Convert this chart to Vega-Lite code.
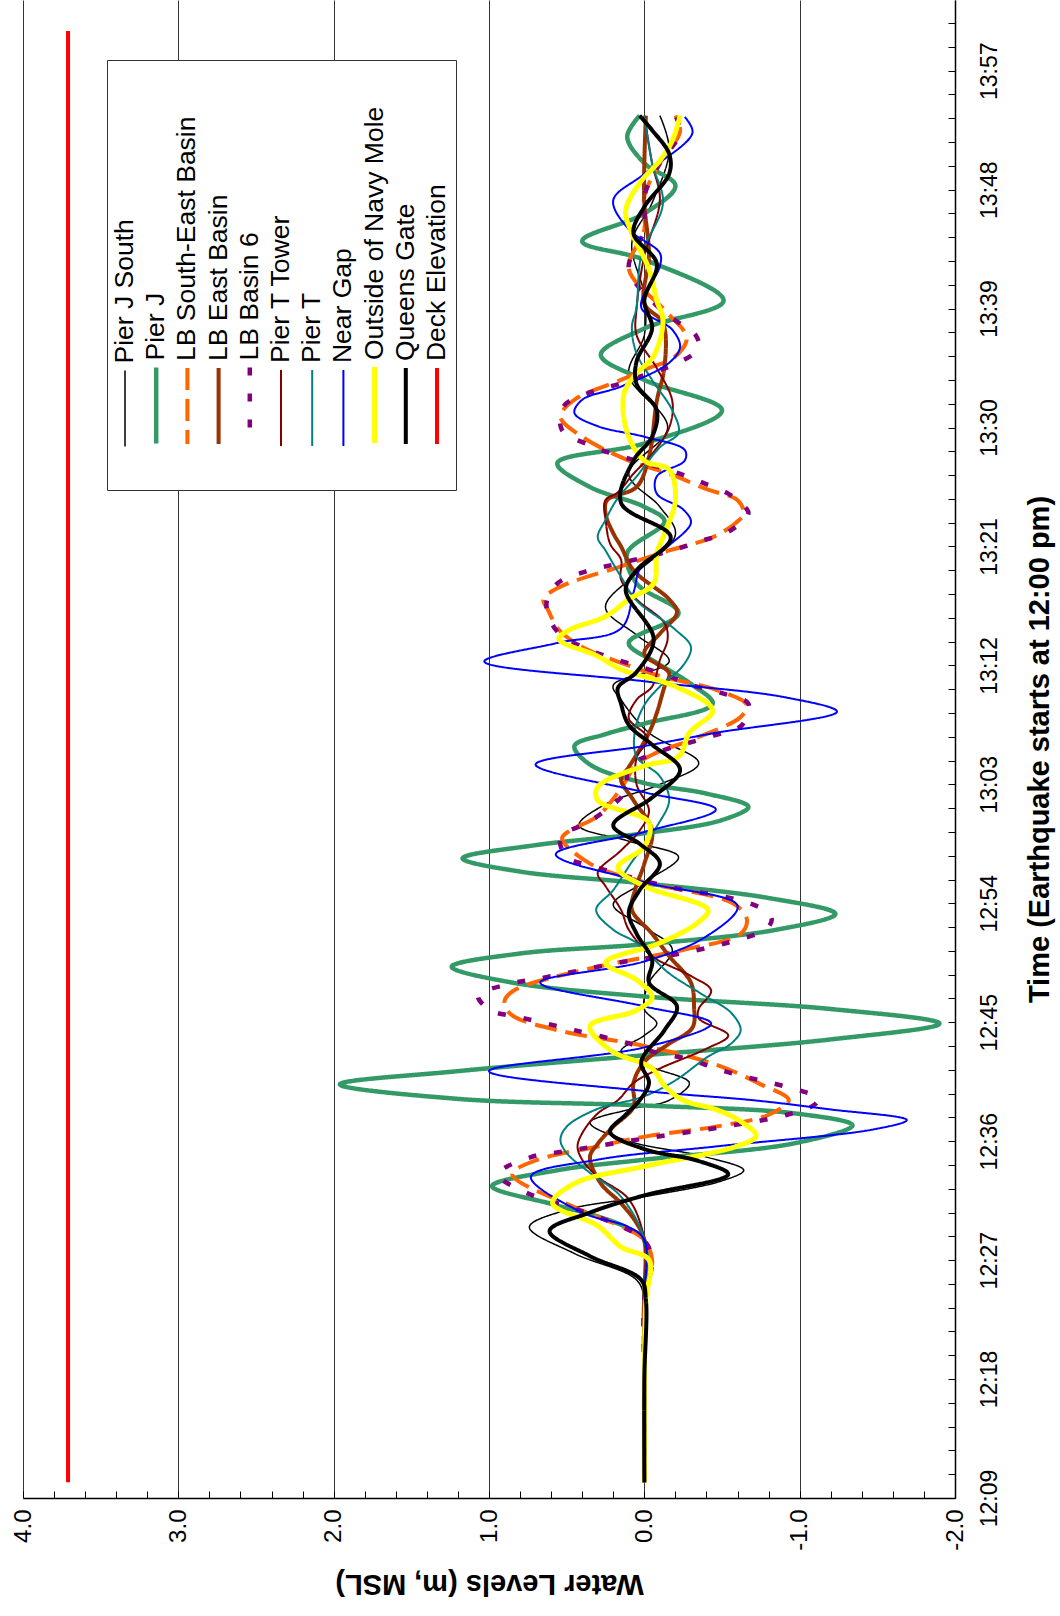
{
  "$schema": "https://vega.github.io/schema/vega-lite/v6.json",
  "width": 932,
  "height": 1498,
  "autosize": {"type": "none"},
  "padding": {"left": 23, "top": 0, "right": 105, "bottom": 118},
  "background": "white",
  "config": {"view": {"stroke": null}, "font": "Liberation Sans"},
  "data": {"values": [
    {"s":"Pier J South","t":10.2,"w":0},{"s":"Pier J South","t":18,"w":0},{"s":"Pier J South","t":24,"w":0},{"s":"Pier J South","t":25.5,"w":0.05},{"s":"Pier J South","t":27.5,"w":0.45},{"s":"Pier J South","t":29.5,"w":0.74},{"s":"Pier J South","t":30.8,"w":0.5},{"s":"Pier J South","t":31.8,"w":0},{"s":"Pier J South","t":33,"w":-0.5},{"s":"Pier J South","t":33.8,"w":-0.64},{"s":"Pier J South","t":34.8,"w":-0.4},{"s":"Pier J South","t":36,"w":0.1},{"s":"Pier J South","t":37.4,"w":0.35},{"s":"Pier J South","t":38.4,"w":0.1},{"s":"Pier J South","t":39.1,"w":-0.16},{"s":"Pier J South","t":40.4,"w":-0.29},{"s":"Pier J South","t":41.6,"w":-0.05},{"s":"Pier J South","t":42.8,"w":0.15},{"s":"Pier J South","t":44,"w":0},{"s":"Pier J South","t":44.9,"w":-0.08},{"s":"Pier J South","t":46,"w":0},{"s":"Pier J South","t":48,"w":-0.03},{"s":"Pier J South","t":50.5,"w":-0.18},{"s":"Pier J South","t":52.2,"w":0},{"s":"Pier J South","t":53.9,"w":0.2},{"s":"Pier J South","t":55.6,"w":0},{"s":"Pier J South","t":57.5,"w":-0.22},{"s":"Pier J South","t":58.7,"w":0.1},{"s":"Pier J South","t":59.9,"w":0.42},{"s":"Pier J South","t":61.5,"w":0.25},{"s":"Pier J South","t":63,"w":-0.1},{"s":"Pier J South","t":64.6,"w":-0.35},{"s":"Pier J South","t":66.9,"w":-0.03},{"s":"Pier J South","t":69.4,"w":0.15},{"s":"Pier J South","t":70.5,"w":0.2},{"s":"Pier J South","t":72.3,"w":-0.16},{"s":"Pier J South","t":74.3,"w":0.05},{"s":"Pier J South","t":76.4,"w":0.25},{"s":"Pier J South","t":79,"w":0.05},{"s":"Pier J South","t":81.9,"w":-0.2},{"s":"Pier J South","t":84,"w":-0.1},{"s":"Pier J South","t":86.5,"w":0.1},{"s":"Pier J South","t":90,"w":-0.15},{"s":"Pier J South","t":94,"w":0.1},{"s":"Pier J South","t":97,"w":0},{"s":"Pier J South","t":100,"w":0},{"s":"Pier J South","t":104,"w":0.08},{"s":"Pier J South","t":107,"w":-0.05},{"s":"Pier J South","t":111,"w":-0.16},{"s":"Pier J South","t":113.6,"w":-0.1},
    {"s":"Pier J","t":10.2,"w":0},{"s":"Pier J","t":18,"w":0},{"s":"Pier J","t":24,"w":0},{"s":"Pier J","t":28.5,"w":0},{"s":"Pier J","t":29.5,"w":0.12},{"s":"Pier J","t":30.3,"w":0.3},{"s":"Pier J","t":31.2,"w":0.58},{"s":"Pier J","t":32.6,"w":0.98},{"s":"Pier J","t":33.8,"w":0.56},{"s":"Pier J","t":34.6,"w":0},{"s":"Pier J","t":35.85,"w":-0.97},{"s":"Pier J","t":37.2,"w":-1.34},{"s":"Pier J","t":38.1,"w":-0.97},{"s":"Pier J","t":38.7,"w":0},{"s":"Pier J","t":39.2,"w":1.2},{"s":"Pier J","t":40.3,"w":1.96},{"s":"Pier J","t":41.3,"w":1.2},{"s":"Pier J","t":42.5,"w":0},{"s":"Pier J","t":43.7,"w":-1.2},{"s":"Pier J","t":44.9,"w":-1.9},{"s":"Pier J","t":46,"w":-1.2},{"s":"Pier J","t":46.95,"w":0},{"s":"Pier J","t":48,"w":0.85},{"s":"Pier J","t":49.2,"w":1.24},{"s":"Pier J","t":50.2,"w":0.8},{"s":"Pier J","t":50.9,"w":0},{"s":"Pier J","t":52,"w":-0.85},{"s":"Pier J","t":53.2,"w":-1.23},{"s":"Pier J","t":54.4,"w":-0.8},{"s":"Pier J","t":55.5,"w":0},{"s":"Pier J","t":56.4,"w":0.8},{"s":"Pier J","t":57.4,"w":1.17},{"s":"Pier J","t":58.4,"w":0.7},{"s":"Pier J","t":59.3,"w":0},{"s":"Pier J","t":60.3,"w":-0.5},{"s":"Pier J","t":61.3,"w":-0.67},{"s":"Pier J","t":62.3,"w":-0.4},{"s":"Pier J","t":63.1,"w":0},{"s":"Pier J","t":64.5,"w":0.35},{"s":"Pier J","t":65.9,"w":0.45},{"s":"Pier J","t":66.8,"w":0.25},{"s":"Pier J","t":67.6,"w":0},{"s":"Pier J","t":69.1,"w":-0.44},{"s":"Pier J","t":70.6,"w":-0.3},{"s":"Pier J","t":72.2,"w":-0.08},{"s":"Pier J","t":73.7,"w":0.1},{"s":"Pier J","t":75.95,"w":-0.22},{"s":"Pier J","t":78.2,"w":0.05},{"s":"Pier J","t":80.5,"w":0.11},{"s":"Pier J","t":82.9,"w":-0.13},{"s":"Pier J","t":84,"w":0},{"s":"Pier J","t":85.5,"w":0.35},{"s":"Pier J","t":87.3,"w":0.56},{"s":"Pier J","t":88.8,"w":0},{"s":"Pier J","t":91.3,"w":-0.5},{"s":"Pier J","t":93.6,"w":0},{"s":"Pier J","t":95.5,"w":0.28},{"s":"Pier J","t":97.5,"w":0},{"s":"Pier J","t":99.6,"w":-0.51},{"s":"Pier J","t":102.7,"w":0},{"s":"Pier J","t":104.1,"w":0.4},{"s":"Pier J","t":106.2,"w":0},{"s":"Pier J","t":108.3,"w":-0.2},{"s":"Pier J","t":110,"w":0},{"s":"Pier J","t":112,"w":0.11},{"s":"Pier J","t":113.6,"w":0.03},
    {"s":"LB South-East Basin","t":10.2,"w":0},{"s":"LB South-East Basin","t":18,"w":0},{"s":"LB South-East Basin","t":24,"w":0},{"s":"LB South-East Basin","t":27,"w":-0.05},{"s":"LB South-East Basin","t":28.5,"w":0},{"s":"LB South-East Basin","t":29.4,"w":0.12},{"s":"LB South-East Basin","t":30.9,"w":0.43},{"s":"LB South-East Basin","t":33.5,"w":0.85},{"s":"LB South-East Basin","t":34.5,"w":0.71},{"s":"LB South-East Basin","t":35.6,"w":0.3},{"s":"LB South-East Basin","t":36.4,"w":-0.03},{"s":"LB South-East Basin","t":37.1,"w":-0.46},{"s":"LB South-East Basin","t":38,"w":-0.8},{"s":"LB South-East Basin","t":39.1,"w":-0.93},{"s":"LB South-East Basin","t":40.3,"w":-0.75},{"s":"LB South-East Basin","t":41.8,"w":-0.46},{"s":"LB South-East Basin","t":43.2,"w":0},{"s":"LB South-East Basin","t":44.4,"w":0.56},{"s":"LB South-East Basin","t":45.6,"w":0.86},{"s":"LB South-East Basin","t":46.6,"w":0.9},{"s":"LB South-East Basin","t":47.4,"w":0.84},{"s":"LB South-East Basin","t":49.2,"w":0.3},{"s":"LB South-East Basin","t":50.5,"w":-0.26},{"s":"LB South-East Basin","t":51.7,"w":-0.62},{"s":"LB South-East Basin","t":52.8,"w":-0.66},{"s":"LB South-East Basin","t":54,"w":-0.57},{"s":"LB South-East Basin","t":55.6,"w":0},{"s":"LB South-East Basin","t":57,"w":0.35},{"s":"LB South-East Basin","t":58.9,"w":0.53},{"s":"LB South-East Basin","t":59.5,"w":0.48},{"s":"LB South-East Basin","t":60.6,"w":0.3},{"s":"LB South-East Basin","t":62.7,"w":0.15},{"s":"LB South-East Basin","t":64.5,"w":0.05},{"s":"LB South-East Basin","t":65.4,"w":-0.08},{"s":"LB South-East Basin","t":66.4,"w":-0.31},{"s":"LB South-East Basin","t":68.1,"w":-0.62},{"s":"LB South-East Basin","t":69,"w":-0.66},{"s":"LB South-East Basin","t":70.2,"w":-0.45},{"s":"LB South-East Basin","t":71.1,"w":-0.13},{"s":"LB South-East Basin","t":72.2,"w":0.15},{"s":"LB South-East Basin","t":73.4,"w":0.4},{"s":"LB South-East Basin","t":74.7,"w":0.55},{"s":"LB South-East Basin","t":76.2,"w":0.62},{"s":"LB South-East Basin","t":77,"w":0.65},{"s":"LB South-East Basin","t":77.9,"w":0.55},{"s":"LB South-East Basin","t":79.5,"w":0.15},{"s":"LB South-East Basin","t":80.7,"w":-0.16},{"s":"LB South-East Basin","t":81.7,"w":-0.44},{"s":"LB South-East Basin","t":82.8,"w":-0.59},{"s":"LB South-East Basin","t":83.5,"w":-0.64},{"s":"LB South-East Basin","t":84.5,"w":-0.6},{"s":"LB South-East Basin","t":85.3,"w":-0.41},{"s":"LB South-East Basin","t":86.5,"w":-0.16},{"s":"LB South-East Basin","t":87.5,"w":0.1},{"s":"LB South-East Basin","t":89.3,"w":0.4},{"s":"LB South-East Basin","t":90.8,"w":0.54},{"s":"LB South-East Basin","t":92.1,"w":0.45},{"s":"LB South-East Basin","t":93.6,"w":0.15},{"s":"LB South-East Basin","t":94.6,"w":-0.05},{"s":"LB South-East Basin","t":95.2,"w":-0.18},{"s":"LB South-East Basin","t":96.5,"w":-0.27},{"s":"LB South-East Basin","t":97.2,"w":-0.26},{"s":"LB South-East Basin","t":98.9,"w":-0.13},{"s":"LB South-East Basin","t":102,"w":0.1},{"s":"LB South-East Basin","t":105,"w":0},{"s":"LB South-East Basin","t":107.5,"w":0},{"s":"LB South-East Basin","t":110,"w":-0.1},{"s":"LB South-East Basin","t":112.4,"w":-0.23},{"s":"LB South-East Basin","t":113.6,"w":-0.2},
    {"s":"LB East Basin","t":10.2,"w":0},{"s":"LB East Basin","t":18,"w":0},{"s":"LB East Basin","t":24,"w":0},{"s":"LB East Basin","t":28.5,"w":0},{"s":"LB East Basin","t":29.8,"w":0.05},{"s":"LB East Basin","t":31.3,"w":0.15},{"s":"LB East Basin","t":32.8,"w":0.28},{"s":"LB East Basin","t":34.8,"w":0.35},{"s":"LB East Basin","t":35.8,"w":0.3},{"s":"LB East Basin","t":37.1,"w":0.2},{"s":"LB East Basin","t":38.6,"w":0.07},{"s":"LB East Basin","t":40.4,"w":0.07},{"s":"LB East Basin","t":42,"w":0},{"s":"LB East Basin","t":43.3,"w":-0.15},{"s":"LB East Basin","t":44.6,"w":-0.31},{"s":"LB East Basin","t":46.2,"w":-0.32},{"s":"LB East Basin","t":48,"w":-0.3},{"s":"LB East Basin","t":50,"w":-0.16},{"s":"LB East Basin","t":51.7,"w":-0.05},{"s":"LB East Basin","t":53.5,"w":0.08},{"s":"LB East Basin","t":55,"w":0.06},{"s":"LB East Basin","t":57,"w":0},{"s":"LB East Basin","t":59.5,"w":-0.05},{"s":"LB East Basin","t":61.8,"w":0.07},{"s":"LB East Basin","t":63.4,"w":0.15},{"s":"LB East Basin","t":64.3,"w":0.1},{"s":"LB East Basin","t":66.9,"w":-0.03},{"s":"LB East Basin","t":68.4,"w":-0.08},{"s":"LB East Basin","t":70.4,"w":-0.13},{"s":"LB East Basin","t":71.4,"w":-0.16},{"s":"LB East Basin","t":72.9,"w":0},{"s":"LB East Basin","t":74.4,"w":-0.1},{"s":"LB East Basin","t":76,"w":-0.21},{"s":"LB East Basin","t":77,"w":-0.16},{"s":"LB East Basin","t":79.2,"w":0.07},{"s":"LB East Basin","t":81,"w":0.15},{"s":"LB East Basin","t":82,"w":0.2},{"s":"LB East Basin","t":83.5,"w":0.25},{"s":"LB East Basin","t":84.5,"w":0.24},{"s":"LB East Basin","t":85.5,"w":0.05},{"s":"LB East Basin","t":87.8,"w":-0.03},{"s":"LB East Basin","t":92,"w":-0.08},{"s":"LB East Basin","t":94.6,"w":-0.13},{"s":"LB East Basin","t":97.9,"w":-0.12},{"s":"LB East Basin","t":99.4,"w":0},{"s":"LB East Basin","t":103,"w":-0.03},{"s":"LB East Basin","t":107,"w":0},{"s":"LB East Basin","t":110,"w":0},{"s":"LB East Basin","t":113.6,"w":-0.01},
    {"s":"LB Basin 6","t":10.2,"w":0},{"s":"LB Basin 6","t":18,"w":0},{"s":"LB Basin 6","t":24,"w":0},{"s":"LB Basin 6","t":27,"w":-0.05},{"s":"LB Basin 6","t":28.5,"w":0},{"s":"LB Basin 6","t":29.4,"w":0.12},{"s":"LB Basin 6","t":30.9,"w":0.45},{"s":"LB Basin 6","t":32.1,"w":0.76},{"s":"LB Basin 6","t":33.5,"w":0.94},{"s":"LB Basin 6","t":34.8,"w":0.73},{"s":"LB Basin 6","t":35.2,"w":0.53},{"s":"LB Basin 6","t":36.2,"w":0},{"s":"LB Basin 6","t":37.2,"w":-0.57},{"s":"LB Basin 6","t":38,"w":-0.92},{"s":"LB Basin 6","t":38.8,"w":-1.1},{"s":"LB Basin 6","t":39.3,"w":-1.12},{"s":"LB Basin 6","t":39.8,"w":-1.01},{"s":"LB Basin 6","t":40.4,"w":-0.82},{"s":"LB Basin 6","t":40.9,"w":-0.64},{"s":"LB Basin 6","t":41.5,"w":-0.46},{"s":"LB Basin 6","t":42.2,"w":-0.29},{"s":"LB Basin 6","t":42.7,"w":-0.08},{"s":"LB Basin 6","t":43.4,"w":0.1},{"s":"LB Basin 6","t":44.4,"w":0.45},{"s":"LB Basin 6","t":44.9,"w":0.63},{"s":"LB Basin 6","t":45.4,"w":0.81},{"s":"LB Basin 6","t":45.9,"w":0.99},{"s":"LB Basin 6","t":47,"w":1.07},{"s":"LB Basin 6","t":47.9,"w":0.87},{"s":"LB Basin 6","t":48.3,"w":0.68},{"s":"LB Basin 6","t":49.6,"w":0.12},{"s":"LB Basin 6","t":50.2,"w":-0.23},{"s":"LB Basin 6","t":50.7,"w":-0.43},{"s":"LB Basin 6","t":51.2,"w":-0.59},{"s":"LB Basin 6","t":52,"w":-0.78},{"s":"LB Basin 6","t":52.8,"w":-0.82},{"s":"LB Basin 6","t":53.5,"w":-0.77},{"s":"LB Basin 6","t":54.3,"w":-0.59},{"s":"LB Basin 6","t":55.1,"w":-0.22},{"s":"LB Basin 6","t":55.6,"w":-0.03},{"s":"LB Basin 6","t":56.8,"w":0.33},{"s":"LB Basin 6","t":57.5,"w":0.5},{"s":"LB Basin 6","t":59,"w":0.54},{"s":"LB Basin 6","t":60.2,"w":0.35},{"s":"LB Basin 6","t":62.5,"w":0.12},{"s":"LB Basin 6","t":64.3,"w":0.1},{"s":"LB Basin 6","t":65.4,"w":-0.08},{"s":"LB Basin 6","t":66.7,"w":-0.45},{"s":"LB Basin 6","t":67.5,"w":-0.63},{"s":"LB Basin 6","t":69.1,"w":-0.67},{"s":"LB Basin 6","t":69.9,"w":-0.5},{"s":"LB Basin 6","t":70.5,"w":-0.31},{"s":"LB Basin 6","t":71.3,"w":-0.13},{"s":"LB Basin 6","t":73.4,"w":0.4},{"s":"LB Basin 6","t":74.7,"w":0.57},{"s":"LB Basin 6","t":76.7,"w":0.63},{"s":"LB Basin 6","t":78.2,"w":0.56},{"s":"LB Basin 6","t":79.1,"w":0.38},{"s":"LB Basin 6","t":79.7,"w":0.17},{"s":"LB Basin 6","t":80.7,"w":-0.18},{"s":"LB Basin 6","t":81.4,"w":-0.36},{"s":"LB Basin 6","t":82.1,"w":-0.54},{"s":"LB Basin 6","t":83.5,"w":-0.67},{"s":"LB Basin 6","t":84.3,"w":-0.62},{"s":"LB Basin 6","t":85,"w":-0.54},{"s":"LB Basin 6","t":85.9,"w":-0.36},{"s":"LB Basin 6","t":86.7,"w":-0.18},{"s":"LB Basin 6","t":88,"w":0.2},{"s":"LB Basin 6","t":88.7,"w":0.36},{"s":"LB Basin 6","t":89.8,"w":0.53},{"s":"LB Basin 6","t":91.6,"w":0.52},{"s":"LB Basin 6","t":92.7,"w":0.34},{"s":"LB Basin 6","t":93.3,"w":0.16},{"s":"LB Basin 6","t":94.1,"w":-0.03},{"s":"LB Basin 6","t":94.8,"w":-0.2},{"s":"LB Basin 6","t":96,"w":-0.35},{"s":"LB Basin 6","t":97,"w":-0.33},{"s":"LB Basin 6","t":97.7,"w":-0.25},{"s":"LB Basin 6","t":99,"w":-0.1},{"s":"LB Basin 6","t":102,"w":0.1},{"s":"LB Basin 6","t":105,"w":0},{"s":"LB Basin 6","t":107.5,"w":0},{"s":"LB Basin 6","t":110,"w":-0.1},{"s":"LB Basin 6","t":112.3,"w":-0.23},{"s":"LB Basin 6","t":113.6,"w":-0.2},
    {"s":"Pier T Tower","t":10.2,"w":0},{"s":"Pier T Tower","t":18,"w":0},{"s":"Pier T Tower","t":24,"w":0},{"s":"Pier T Tower","t":28.5,"w":0},{"s":"Pier T Tower","t":31.6,"w":0.1},{"s":"Pier T Tower","t":33.3,"w":0.3},{"s":"Pier T Tower","t":34.6,"w":0.4},{"s":"Pier T Tower","t":35.6,"w":0.43},{"s":"Pier T Tower","t":36.6,"w":0.4},{"s":"Pier T Tower","t":38.1,"w":0.3},{"s":"Pier T Tower","t":39.1,"w":0.17},{"s":"Pier T Tower","t":40.4,"w":0.07},{"s":"Pier T Tower","t":41.5,"w":-0.1},{"s":"Pier T Tower","t":43,"w":-0.4},{"s":"Pier T Tower","t":44,"w":-0.54},{"s":"Pier T Tower","t":45.3,"w":-0.35},{"s":"Pier T Tower","t":46,"w":-0.35},{"s":"Pier T Tower","t":47.4,"w":-0.43},{"s":"Pier T Tower","t":48.5,"w":-0.3},{"s":"Pier T Tower","t":50,"w":-0.05},{"s":"Pier T Tower","t":52,"w":0.1},{"s":"Pier T Tower","t":53.5,"w":0.15},{"s":"Pier T Tower","t":55.3,"w":0.25},{"s":"Pier T Tower","t":56.3,"w":0.3},{"s":"Pier T Tower","t":58,"w":0.15},{"s":"Pier T Tower","t":59.5,"w":0.03},{"s":"Pier T Tower","t":61,"w":-0.03},{"s":"Pier T Tower","t":63,"w":0.05},{"s":"Pier T Tower","t":65,"w":0.05},{"s":"Pier T Tower","t":66.5,"w":-0.02},{"s":"Pier T Tower","t":68,"w":0.1},{"s":"Pier T Tower","t":69.4,"w":0.05},{"s":"Pier T Tower","t":70.4,"w":-0.05},{"s":"Pier T Tower","t":72.4,"w":-0.1},{"s":"Pier T Tower","t":74,"w":-0.15},{"s":"Pier T Tower","t":75.2,"w":-0.13},{"s":"Pier T Tower","t":77,"w":0.05},{"s":"Pier T Tower","t":78.5,"w":0.15},{"s":"Pier T Tower","t":80,"w":0.15},{"s":"Pier T Tower","t":81.2,"w":0.22},{"s":"Pier T Tower","t":83.2,"w":0.25},{"s":"Pier T Tower","t":84.5,"w":0.25},{"s":"Pier T Tower","t":85.1,"w":0.17},{"s":"Pier T Tower","t":86.5,"w":0.07},{"s":"Pier T Tower","t":88,"w":-0.05},{"s":"Pier T Tower","t":90,"w":-0.16},{"s":"Pier T Tower","t":92,"w":-0.18},{"s":"Pier T Tower","t":94.5,"w":-0.08},{"s":"Pier T Tower","t":97,"w":0.05},{"s":"Pier T Tower","t":99,"w":0.05},{"s":"Pier T Tower","t":103,"w":0},{"s":"Pier T Tower","t":107.2,"w":-0.1},{"s":"Pier T Tower","t":110,"w":-0.05},{"s":"Pier T Tower","t":113.6,"w":0},
    {"s":"Pier T","t":10.2,"w":0},{"s":"Pier T","t":18,"w":0},{"s":"Pier T","t":24,"w":0},{"s":"Pier T","t":28.5,"w":0},{"s":"Pier T","t":31.8,"w":0.15},{"s":"Pier T","t":33.6,"w":0.35},{"s":"Pier T","t":35.1,"w":0.5},{"s":"Pier T","t":36.1,"w":0.54},{"s":"Pier T","t":37.1,"w":0.5},{"s":"Pier T","t":38.4,"w":0.31},{"s":"Pier T","t":39.4,"w":0},{"s":"Pier T","t":40.6,"w":-0.2},{"s":"Pier T","t":42.4,"w":-0.41},{"s":"Pier T","t":43.4,"w":-0.56},{"s":"Pier T","t":44.4,"w":-0.62},{"s":"Pier T","t":45.7,"w":-0.56},{"s":"Pier T","t":47.2,"w":-0.36},{"s":"Pier T","t":48.7,"w":-0.16},{"s":"Pier T","t":51,"w":0.05},{"s":"Pier T","t":52,"w":0.2},{"s":"Pier T","t":53.5,"w":0.31},{"s":"Pier T","t":55,"w":0.2},{"s":"Pier T","t":57.3,"w":0.07},{"s":"Pier T","t":58.3,"w":0},{"s":"Pier T","t":59.8,"w":-0.08},{"s":"Pier T","t":61.8,"w":-0.16},{"s":"Pier T","t":63.6,"w":-0.1},{"s":"Pier T","t":65.1,"w":0.05},{"s":"Pier T","t":67.1,"w":0.06},{"s":"Pier T","t":69,"w":0},{"s":"Pier T","t":70.4,"w":-0.1},{"s":"Pier T","t":72,"w":-0.25},{"s":"Pier T","t":73.4,"w":-0.3},{"s":"Pier T","t":74.7,"w":-0.2},{"s":"Pier T","t":76.9,"w":0.05},{"s":"Pier T","t":78.7,"w":0.15},{"s":"Pier T","t":80.7,"w":0.25},{"s":"Pier T","t":81.7,"w":0.3},{"s":"Pier T","t":83,"w":0.25},{"s":"Pier T","t":84.5,"w":0.18},{"s":"Pier T","t":86.3,"w":0.05},{"s":"Pier T","t":88.5,"w":-0.1},{"s":"Pier T","t":89.6,"w":-0.22},{"s":"Pier T","t":91.3,"w":-0.18},{"s":"Pier T","t":93.6,"w":-0.05},{"s":"Pier T","t":95.6,"w":0.05},{"s":"Pier T","t":97.6,"w":0.08},{"s":"Pier T","t":99.1,"w":0.05},{"s":"Pier T","t":103,"w":0.02},{"s":"Pier T","t":107,"w":-0.12},{"s":"Pier T","t":110,"w":-0.05},{"s":"Pier T","t":113.6,"w":0},
    {"s":"Near Gap","t":10.2,"w":0},{"s":"Near Gap","t":18,"w":0},{"s":"Near Gap","t":24,"w":0},{"s":"Near Gap","t":28.5,"w":0},{"s":"Near Gap","t":29.5,"w":0.1},{"s":"Near Gap","t":30.6,"w":0.4},{"s":"Near Gap","t":33.3,"w":0.73},{"s":"Near Gap","t":34.6,"w":0.3},{"s":"Near Gap","t":35.6,"w":-0.46},{"s":"Near Gap","t":36.9,"w":-1.48},{"s":"Near Gap","t":37.6,"w":-1.69},{"s":"Near Gap","t":38.4,"w":-1.2},{"s":"Near Gap","t":39.1,"w":-0.7},{"s":"Near Gap","t":39.8,"w":0},{"s":"Near Gap","t":41.3,"w":1},{"s":"Near Gap","t":43.1,"w":0},{"s":"Near Gap","t":44.9,"w":-0.43},{"s":"Near Gap","t":46.2,"w":0},{"s":"Near Gap","t":48,"w":0.67},{"s":"Near Gap","t":49.6,"w":0},{"s":"Near Gap","t":51.5,"w":-0.4},{"s":"Near Gap","t":53.8,"w":-0.6},{"s":"Near Gap","t":55.6,"w":0},{"s":"Near Gap","t":57.7,"w":0.57},{"s":"Near Gap","t":59.4,"w":0},{"s":"Near Gap","t":61.1,"w":-0.46},{"s":"Near Gap","t":62.4,"w":0},{"s":"Near Gap","t":64.5,"w":0.7},{"s":"Near Gap","t":65.9,"w":0},{"s":"Near Gap","t":66.9,"w":-0.46},{"s":"Near Gap","t":68.5,"w":-1.24},{"s":"Near Gap","t":69.6,"w":-0.9},{"s":"Near Gap","t":70.8,"w":0},{"s":"Near Gap","t":72.3,"w":1.03},{"s":"Near Gap","t":73.7,"w":0.56},{"s":"Near Gap","t":74.8,"w":0.15},{"s":"Near Gap","t":77.5,"w":0.07},{"s":"Near Gap","t":79.5,"w":0.02},{"s":"Near Gap","t":81,"w":-0.15},{"s":"Near Gap","t":82.8,"w":-0.3},{"s":"Near Gap","t":83.8,"w":-0.25},{"s":"Near Gap","t":85,"w":-0.08},{"s":"Near Gap","t":86.3,"w":-0.08},{"s":"Near Gap","t":87.5,"w":-0.26},{"s":"Near Gap","t":88.3,"w":-0.26},{"s":"Near Gap","t":89.3,"w":0},{"s":"Near Gap","t":90.1,"w":0.3},{"s":"Near Gap","t":91.1,"w":0.45},{"s":"Near Gap","t":92.1,"w":0.4},{"s":"Near Gap","t":93.1,"w":0.15},{"s":"Near Gap","t":94.9,"w":-0.16},{"s":"Near Gap","t":96.1,"w":-0.23},{"s":"Near Gap","t":97.4,"w":-0.18},{"s":"Near Gap","t":99.1,"w":0.02},{"s":"Near Gap","t":102.2,"w":-0.1},{"s":"Near Gap","t":103.2,"w":-0.1},{"s":"Near Gap","t":105,"w":0.1},{"s":"Near Gap","t":107.2,"w":0.2},{"s":"Near Gap","t":109.2,"w":0},{"s":"Near Gap","t":112.3,"w":-0.31},{"s":"Near Gap","t":113.5,"w":-0.26},
    {"s":"Outside of Navy Mole","t":10.2,"w":0},{"s":"Outside of Navy Mole","t":18,"w":0},{"s":"Outside of Navy Mole","t":24,"w":-0.01},{"s":"Outside of Navy Mole","t":27,"w":-0.03},{"s":"Outside of Navy Mole","t":28,"w":0.15},{"s":"Outside of Navy Mole","t":29.6,"w":0.3},{"s":"Outside of Navy Mole","t":31.3,"w":0.59},{"s":"Outside of Navy Mole","t":32.8,"w":0.45},{"s":"Outside of Navy Mole","t":34.1,"w":0},{"s":"Outside of Navy Mole","t":35.6,"w":-0.59},{"s":"Outside of Navy Mole","t":36.4,"w":-0.72},{"s":"Outside of Navy Mole","t":37.5,"w":-0.62},{"s":"Outside of Navy Mole","t":38.4,"w":-0.46},{"s":"Outside of Navy Mole","t":39.1,"w":-0.25},{"s":"Outside of Navy Mole","t":40.2,"w":-0.13},{"s":"Outside of Navy Mole","t":41.5,"w":-0.05},{"s":"Outside of Navy Mole","t":42.9,"w":0.22},{"s":"Outside of Navy Mole","t":44.7,"w":0.35},{"s":"Outside of Navy Mole","t":45.9,"w":0.05},{"s":"Outside of Navy Mole","t":46.9,"w":-0.05},{"s":"Outside of Navy Mole","t":48.2,"w":0.05},{"s":"Outside of Navy Mole","t":49.5,"w":0.25},{"s":"Outside of Navy Mole","t":51,"w":-0.1},{"s":"Outside of Navy Mole","t":52.5,"w":-0.34},{"s":"Outside of Navy Mole","t":53.5,"w":-0.41},{"s":"Outside of Navy Mole","t":55.3,"w":0},{"s":"Outside of Navy Mole","t":56.7,"w":0.17},{"s":"Outside of Navy Mole","t":58.3,"w":0},{"s":"Outside of Navy Mole","t":60.1,"w":-0.03},{"s":"Outside of Navy Mole","t":61.8,"w":0.3},{"s":"Outside of Navy Mole","t":62.8,"w":0.3},{"s":"Outside of Navy Mole","t":64.4,"w":0},{"s":"Outside of Navy Mole","t":65.1,"w":-0.22},{"s":"Outside of Navy Mole","t":66.9,"w":-0.29},{"s":"Outside of Navy Mole","t":68.6,"w":-0.44},{"s":"Outside of Navy Mole","t":70.4,"w":-0.2},{"s":"Outside of Navy Mole","t":71.7,"w":0.15},{"s":"Outside of Navy Mole","t":72.7,"w":0.3},{"s":"Outside of Navy Mole","t":74,"w":0.55},{"s":"Outside of Navy Mole","t":74.7,"w":0.48},{"s":"Outside of Navy Mole","t":75.7,"w":0.25},{"s":"Outside of Navy Mole","t":77,"w":0.1},{"s":"Outside of Navy Mole","t":78.2,"w":-0.06},{"s":"Outside of Navy Mole","t":80.5,"w":-0.08},{"s":"Outside of Navy Mole","t":82,"w":-0.13},{"s":"Outside of Navy Mole","t":84.5,"w":-0.2},{"s":"Outside of Navy Mole","t":86.8,"w":-0.16},{"s":"Outside of Navy Mole","t":87.5,"w":0},{"s":"Outside of Navy Mole","t":89.6,"w":0.11},{"s":"Outside of Navy Mole","t":92.6,"w":0.13},{"s":"Outside of Navy Mole","t":94.1,"w":0.05},{"s":"Outside of Navy Mole","t":95.4,"w":-0.06},{"s":"Outside of Navy Mole","t":98.1,"w":-0.12},{"s":"Outside of Navy Mole","t":99.6,"w":-0.08},{"s":"Outside of Navy Mole","t":102,"w":-0.03},{"s":"Outside of Navy Mole","t":104.7,"w":0.08},{"s":"Outside of Navy Mole","t":106.4,"w":0.12},{"s":"Outside of Navy Mole","t":108.5,"w":0.03},{"s":"Outside of Navy Mole","t":110.2,"w":-0.1},{"s":"Outside of Navy Mole","t":111.7,"w":-0.18},{"s":"Outside of Navy Mole","t":113.6,"w":-0.23},
    {"s":"Queens Gate","t":10.2,"w":0},{"s":"Queens Gate","t":18,"w":0},{"s":"Queens Gate","t":24,"w":-0.01},{"s":"Queens Gate","t":25.5,"w":0.02},{"s":"Queens Gate","t":27.3,"w":0.35},{"s":"Queens Gate","t":29.2,"w":0.61},{"s":"Queens Gate","t":30.6,"w":0.35},{"s":"Queens Gate","t":31.9,"w":0},{"s":"Queens Gate","t":33.5,"w":-0.54},{"s":"Queens Gate","t":34.5,"w":-0.35},{"s":"Queens Gate","t":35.4,"w":0},{"s":"Queens Gate","t":36.7,"w":0.22},{"s":"Queens Gate","t":38,"w":0.12},{"s":"Queens Gate","t":39.1,"w":0.03},{"s":"Queens Gate","t":40.4,"w":-0.03},{"s":"Queens Gate","t":42,"w":0.02},{"s":"Queens Gate","t":44.4,"w":-0.13},{"s":"Queens Gate","t":46.2,"w":-0.21},{"s":"Queens Gate","t":48,"w":-0.03},{"s":"Queens Gate","t":49.7,"w":-0.05},{"s":"Queens Gate","t":51.7,"w":0.05},{"s":"Queens Gate","t":53.3,"w":0.1},{"s":"Queens Gate","t":55,"w":0.03},{"s":"Queens Gate","t":57,"w":-0.1},{"s":"Queens Gate","t":58.5,"w":0.03},{"s":"Queens Gate","t":59.9,"w":0.2},{"s":"Queens Gate","t":62,"w":-0.05},{"s":"Queens Gate","t":64.1,"w":-0.23},{"s":"Queens Gate","t":66,"w":-0.05},{"s":"Queens Gate","t":67.5,"w":0.1},{"s":"Queens Gate","t":69.1,"w":0.15},{"s":"Queens Gate","t":70.3,"w":0.17},{"s":"Queens Gate","t":71.5,"w":0.05},{"s":"Queens Gate","t":74,"w":-0.06},{"s":"Queens Gate","t":77.7,"w":0.12},{"s":"Queens Gate","t":79.2,"w":0.05},{"s":"Queens Gate","t":81.7,"w":-0.17},{"s":"Queens Gate","t":84.3,"w":0.15},{"s":"Queens Gate","t":87.5,"w":0.07},{"s":"Queens Gate","t":89.3,"w":-0.05},{"s":"Queens Gate","t":91.3,"w":-0.08},{"s":"Queens Gate","t":93.3,"w":0.05},{"s":"Queens Gate","t":95,"w":0.05},{"s":"Queens Gate","t":97.5,"w":-0.05},{"s":"Queens Gate","t":99.6,"w":0},{"s":"Queens Gate","t":102.4,"w":-0.08},{"s":"Queens Gate","t":104.7,"w":0.07},{"s":"Queens Gate","t":106.7,"w":0},{"s":"Queens Gate","t":109.2,"w":-0.16},{"s":"Queens Gate","t":110.7,"w":-0.16},{"s":"Queens Gate","t":112.5,"w":-0.05},{"s":"Queens Gate","t":113.6,"w":0.03},
    {"s":"Deck Elevation","t":10.2,"w":3.71},{"s":"Deck Elevation","t":120,"w":3.71}
  ]},
  "mark": {"type": "line", "interpolate": "catmull-rom", "strokeCap": "butt"},
  "encoding": {
    "x": {
      "field": "w", "type": "quantitative",
      "scale": {"domain": [-2, 4], "reverse": true, "nice": false, "zero": false},
      "axis": {
        "orient": "bottom",
        "values": [4, 3.8, 3.6, 3.4, 3.2, 3, 2.8, 2.6, 2.4, 2.2, 2, 1.8, 1.6, 1.4, 1.2, 1, 0.8, 0.6, 0.4, 0.2, 0, -0.2, -0.4, -0.6, -0.8, -1, -1.2, -1.4, -1.6, -1.8, -2],
        "labelExpr": "datum.value % 1 === 0 ? datum.value + '.0' : ''",
        "labelAngle": -90, "labelAlign": "right", "labelBaseline": "middle",
        "labelFontSize": 24, "labelColor": "black", "labelPadding": 18,
        "labelOverlap": false, "labelFlush": false, "labelBound": false,
        "tickSize": -7,
        "tickColor": "black", "tickWidth": 1,
        "domainColor": "black", "domainWidth": 1.5,
        "grid": true, "gridColor": "black", "gridWidth": 0.8,
        "gridOpacity": {"condition": {"test": "datum.value % 1 === 0", "value": 1}, "value": 0},
        "title": "Water Levels (m, MSL)", "titleAngle": 180, "titleBaseline": "bottom", "titleAlign": "center",
        "titleFontSize": 29, "titleFontWeight": "bold", "titleColor": "black", "titlePadding": 18
      }
    },
    "y": {
      "field": "t", "type": "quantitative",
      "scale": {"domain": [9, 122.35], "nice": false, "zero": false},
      "axis": {
        "orient": "right",
        "values": [9, 10.8, 12.6, 14.4, 16.2, 18, 19.8, 21.6, 23.4, 25.2, 27, 28.8, 30.6, 32.4, 34.2, 36, 37.8, 39.6, 41.4, 43.2, 45, 46.8, 48.6, 50.4, 52.2, 54, 55.8, 57.6, 59.4, 61.2, 63, 64.8, 66.6, 68.4, 70.2, 72, 73.8, 75.6, 77.4, 79.2, 81, 82.8, 84.6, 86.4, 88.2, 90, 91.8, 93.6, 95.4, 97.2, 99, 100.8, 102.6, 104.4, 106.2, 108, 109.8, 111.6, 113.4, 115.2, 117, 118.8, 120.6],
        "labelExpr": "datum.value % 9 === 0 ? (12 + floor(datum.value / 60)) + ':' + (datum.value % 60 < 10 ? '0' : '') + (datum.value % 60) : ''",
        "labelAngle": -90, "labelAlign": "center", "labelBaseline": "top",
        "labelFontSize": 23, "labelColor": "black", "labelPadding": 30,
        "labelOverlap": false, "labelFlush": false, "labelBound": false,
        "tickSize": -7,
        "tickColor": "black", "tickWidth": 1,
        "domainColor": "black", "domainWidth": 1.5,
        "grid": false,
        "title": "Time (Earthquake starts at 12:00 pm)", "titleAngle": -90, "titleBaseline": "top", "titleAlign": "center",
        "titleFontSize": 29, "titleFontWeight": "bold", "titleColor": "black", "titlePadding": 24
      }
    },
    "order": {"field": "t", "type": "quantitative"},
    "color": {
      "field": "s", "type": "nominal",
      "scale": {
        "domain": ["Pier J South", "Pier J", "LB South-East Basin", "LB East Basin", "LB Basin 6", "Pier T Tower", "Pier T", "Near Gap", "Outside of Navy Mole", "Queens Gate", "Deck Elevation"],
        "range": ["#000000", "#339966", "#FF6600", "#993300", "#800080", "#800000", "#008080", "#0000FF", "#FFFF00", "#000000", "#FF0000"]
      },
      "legend": {
        "orient": "none", "legendX": 84, "legendY": 60,
        "direction": "horizontal", "columns": 11, "title": null,
        "symbolType": "M0,-1L0,1M0,1.84", "symbolSize": 5776, "symbolStrokeWidth": 3,
        "labelFontSize": 26.5, "labelColor": "black", "labelLimit": 600,
        "labelAlign": "left", "labelBaseline": "middle",
        "padding": 5, "columnPadding": 4.2, "rowPadding": 0,
        "fillColor": "white", "strokeColor": "#333333",
        "encoding": {
          "symbols": {
            "x": {"value": 13}, "y": {"value": 340},
            "strokeWidth": {"value": {"expr": "datum.value === 'Pier J South' ? 1.5 : (datum.value === 'Pier J' || datum.value === 'LB Basin 6') ? 4.5 : datum.value === 'Outside of Navy Mole' ? 5 : (datum.value === 'LB South-East Basin' || datum.value === 'LB East Basin' || datum.value === 'Queens Gate' || datum.value === 'Deck Elevation') ? 4 : 2"}}
          },
          "labels": {"x": {"value": 13}, "y": {"value": 295}, "angle": {"value": -90}}
        }
      }
    },
    "strokeDash": {
      "field": "s", "type": "nominal",
      "scale": {
        "domain": ["Pier J South", "Pier J", "LB South-East Basin", "LB East Basin", "LB Basin 6", "Pier T Tower", "Pier T", "Near Gap", "Outside of Navy Mole", "Queens Gate", "Deck Elevation"],
        "range": [[1, 0], [1, 0], [22, 9], [1, 0], [8, 18], [1, 0], [1, 0], [1, 0], [1, 0], [1, 0], [1, 0]]
      }
    },
    "strokeWidth": {
      "condition": [
        {"test": "datum.s === 'Pier J South'", "value": 1.5},
        {"test": "datum.s === 'Pier J'", "value": 4.5},
        {"test": "datum.s === 'LB South-East Basin'", "value": 4},
        {"test": "datum.s === 'LB East Basin'", "value": 4},
        {"test": "datum.s === 'LB Basin 6'", "value": 4.5},
        {"test": "datum.s === 'Outside of Navy Mole'", "value": 5},
        {"test": "datum.s === 'Queens Gate'", "value": 4},
        {"test": "datum.s === 'Deck Elevation'", "value": 4}
      ],
      "value": 2
    }
  }
}
